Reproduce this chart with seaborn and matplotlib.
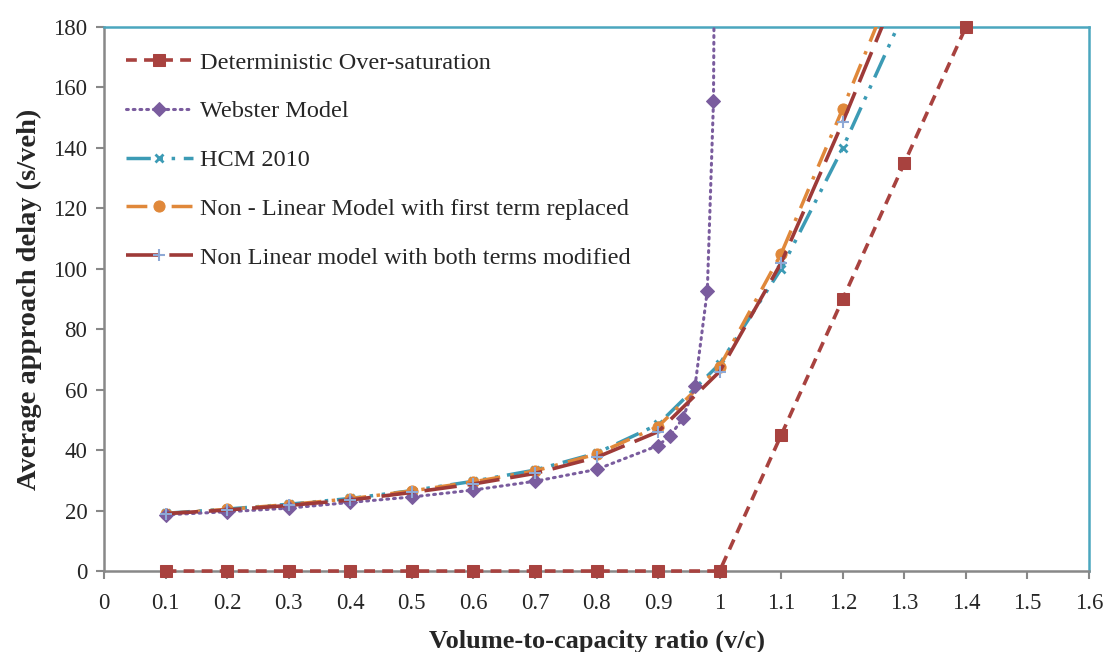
import matplotlib
matplotlib.use('Agg')
import matplotlib.pyplot as plt
import seaborn as sns
import numpy as np

# v/c ratios and delay values
vc = [0.1, 0.2, 0.3, 0.4, 0.5, 0.6, 0.7, 0.8, 0.9, 1.0, 1.1, 1.2, 1.3]

det_x = [0.1, 0.2, 0.3, 0.4, 0.5, 0.6, 0.7, 0.8, 0.9, 1.0, 1.1, 1.2, 1.3, 1.4]
det_y = [0, 0, 0, 0, 0, 0, 0, 0, 0, 0, 45, 90, 135, 180]

web_x = [0.1, 0.2, 0.3, 0.4, 0.5, 0.6, 0.7, 0.8, 0.9, 0.92, 0.94, 0.96, 0.98, 0.99, 0.995]
web_y = [18.6, 19.6, 20.8, 22.7, 24.5, 26.8, 29.7, 33.6, 41.5, 44.8, 50.5, 61.1, 92.8, 155.5, 320]

hcm_y = [19.1, 20.5, 22.1, 24.0, 26.6, 29.7, 33.4, 39.0, 48.5, 68.5, 100, 140, 185]
nl1_y = [19.0, 20.4, 22.0, 23.9, 26.5, 29.5, 33.1, 38.7, 47.8, 67.6, 105, 153, 203]
nl2_y = [19.0, 20.2, 21.7, 23.5, 26.0, 28.8, 32.3, 37.6, 46.1, 66.0, 102, 148.5, 198]

x_ticks = np.round(np.arange(0, 1.61, 0.1), 1)
y_ticks = list(range(0, 181, 20))

sns.set_style('white')
plt.rcParams['font.family'] = ['Liberation Serif', 'DejaVu Serif']

fig = plt.figure(figsize=(11.1, 6.52), dpi=100)
ax = fig.add_axes([0.0937, 0.1242, 0.8874, 0.8344])

sns.lineplot(x=det_x, y=det_y, ax=ax, color='#A8423F', linewidth=2.6,
             linestyle=(0, (3, 2)), marker='s', markersize=8,
             markeredgecolor='#A8423F', label='Deterministic Over-saturation',
             clip_on=False, zorder=5)
sns.lineplot(x=web_x, y=web_y, ax=ax, color='#7A5C9E', linewidth=2.2,
             linestyle=(0, (0.6, 1.6)), dash_capstyle='round', marker='D', markersize=7.5,
             markeredgecolor='#7A5C9E', label='Webster Model', sort=False, zorder=4)
sns.lineplot(x=vc, y=hcm_y, ax=ax, color='#3C9BB5', linewidth=2.5,
             linestyle=(0, (7, 2.5, 1, 2.5, 1, 2.5)), marker='x', markersize=6,
             markeredgewidth=2, markeredgecolor='#3C9BB5', label='HCM 2010', zorder=3)
sns.lineplot(x=vc, y=nl1_y, ax=ax, color='#E0883A', linewidth=2.5,
             linestyle=(0, (6, 3, 1, 3)), marker='o', markersize=8,
             markeredgecolor='#E0883A',
             label='Non - Linear Model with first term replaced', zorder=3)
sns.lineplot(x=vc, y=nl2_y, ax=ax, color='#9E3A38', linewidth=2.6,
             linestyle=(0, (9, 3)), marker='+', markersize=8, markeredgewidth=1.5,
             markeredgecolor='#8EA9D6',
             label='Non Linear model with both terms modified', zorder=4)

ax.set_xlim(0, 1.6)
ax.set_ylim(0, 180)
ax.set_xticks(x_ticks)
ax.set_xticklabels(['%g' % t for t in x_ticks])
ax.set_yticks(y_ticks)
ax.tick_params(axis='both', labelsize=16.5, direction='out', length=6, width=1.5,
               color='#888888', left=True, bottom=True)
ax.tick_params(axis='x', pad=10)
ax.tick_params(axis='y', pad=6)

for s in ['left', 'bottom']:
    ax.spines[s].set_color('#888888')
    ax.spines[s].set_linewidth(1.8)
for s in ['top', 'right']:
    ax.spines[s].set_color('#4BA6BE')
    ax.spines[s].set_linewidth(1.8)

ax.set_xlabel('Volume-to-capacity ratio (v/c)', fontsize=19, fontweight='bold', labelpad=11)
ax.set_ylabel('Average approach delay (s/veh)', fontsize=20.5, fontweight='bold', labelpad=8)

leg = ax.legend(loc='upper left', frameon=False, fontsize=17.5, handlelength=2.75,
                labelspacing=1.1, handletextpad=0.3, borderaxespad=0.3,
                bbox_to_anchor=(0.005, 0.986))

plt.savefig('out.png', dpi=100)
